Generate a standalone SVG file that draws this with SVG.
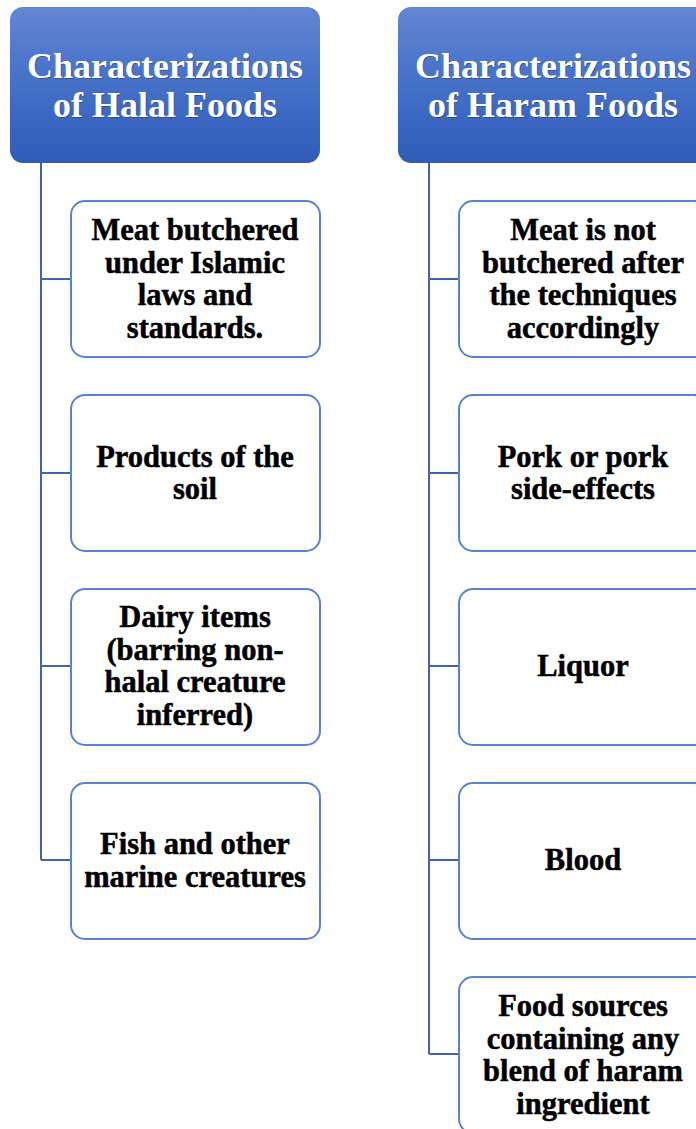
<svg xmlns="http://www.w3.org/2000/svg" width="696" height="1129" viewBox="0 0 696 1129">
  <defs>
    <linearGradient id="hdr" x1="0" y1="0" x2="0" y2="1">
      <stop offset="0" stop-color="#6286d2"/>
      <stop offset="0.5" stop-color="#4470c8"/>
      <stop offset="1" stop-color="#2f5cb9"/>
    </linearGradient>
    <style>
      .hdr { fill: url(#hdr); stroke: none; }
      .hdrText { font-family: "Liberation Serif", "Times New Roman", serif; font-weight: bold; font-size: 36px; fill: #ffffff; text-anchor: middle; }
      .hdrShadow { font-family: "Liberation Serif", "Times New Roman", serif; font-weight: bold; font-size: 36px; fill: #2a2a40; fill-opacity: 0.45; text-anchor: middle; }
      .box { fill: #ffffff; stroke: #5b82cc; stroke-width: 2; }
      .boxText { font-family: "Liberation Serif", "Times New Roman", serif; font-weight: bold; font-size: 30.5px; fill: #000000; stroke: #000000; stroke-width: 0.5; text-anchor: middle; }
      .conn { fill: none; stroke: #3f63ad; stroke-width: 2; }
    </style>
  </defs>
  <rect width="696" height="1129" fill="#ffffff"/>

  <g id="connectors">
    <path class="conn" d="M41,162 V860 M41,279 H71 M41,473 H71 M41,666 H71 M41,860 H71"/>
    <path class="conn" d="M429,162 V1054 M429,279 H459 M429,473 H459 M429,666 H459 M429,860 H459 M429,1054 H459"/>
  </g>

  <g id="halal-header">
    <rect class="hdr" x="10" y="7" width="310" height="156" rx="13"/>
    <text class="hdrShadow" x="166" y="79">Characterizations</text>
    <text class="hdrShadow" x="166" y="118">of Halal Foods</text>
    <text class="hdrText" x="165" y="78">Characterizations</text>
    <text class="hdrText" x="165" y="117">of Halal Foods</text>
  </g>

  <g id="haram-header">
    <rect class="hdr" x="398" y="7" width="310" height="156" rx="13"/>
    <text class="hdrShadow" x="554" y="79">Characterizations</text>
    <text class="hdrShadow" x="554" y="118">of Haram Foods</text>
    <text class="hdrText" x="553" y="78">Characterizations</text>
    <text class="hdrText" x="553" y="117">of Haram Foods</text>
  </g>

  <g id="halal-1">
    <rect class="box" x="71" y="201" width="249" height="156" rx="14"/>
    <text class="boxText" x="195" y="240">Meat butchered</text>
    <text class="boxText" x="195" y="272.5">under Islamic</text>
    <text class="boxText" x="195" y="305">laws and</text>
    <text class="boxText" x="195" y="337.5">standards.</text>
  </g>

  <g id="halal-2">
    <rect class="box" x="71" y="395" width="249" height="156" rx="14"/>
    <text class="boxText" x="195" y="466.5">Products of the</text>
    <text class="boxText" x="195" y="499">soil</text>
  </g>

  <g id="halal-3">
    <rect class="box" x="71" y="589" width="249" height="156" rx="14"/>
    <text class="boxText" x="195" y="627">Dairy items</text>
    <text class="boxText" x="195" y="659.5">(barring non-</text>
    <text class="boxText" x="195" y="692">halal creature</text>
    <text class="boxText" x="195" y="724.5">inferred)</text>
  </g>

  <g id="halal-4">
    <rect class="box" x="71" y="783" width="249" height="156" rx="14"/>
    <text class="boxText" x="195" y="854">Fish and other</text>
    <text class="boxText" x="195" y="886.5">marine creatures</text>
  </g>

  <g id="haram-1">
    <rect class="box" x="459" y="201" width="249" height="156" rx="14"/>
    <text class="boxText" x="583" y="240">Meat is not</text>
    <text class="boxText" x="583" y="272.5">butchered after</text>
    <text class="boxText" x="583" y="305">the techniques</text>
    <text class="boxText" x="583" y="337.5">accordingly</text>
  </g>

  <g id="haram-2">
    <rect class="box" x="459" y="395" width="249" height="156" rx="14"/>
    <text class="boxText" x="583" y="466.5">Pork or pork</text>
    <text class="boxText" x="583" y="499">side-effects</text>
  </g>

  <g id="haram-3">
    <rect class="box" x="459" y="589" width="249" height="156" rx="14"/>
    <text class="boxText" x="583" y="676">Liquor</text>
  </g>

  <g id="haram-4">
    <rect class="box" x="459" y="783" width="249" height="156" rx="14"/>
    <text class="boxText" x="583" y="870">Blood</text>
  </g>

  <g id="haram-5">
    <rect class="box" x="459" y="977" width="249" height="156" rx="14"/>
    <text class="boxText" x="583" y="1016">Food sources</text>
    <text class="boxText" x="583" y="1048.5">containing any</text>
    <text class="boxText" x="583" y="1081">blend of haram</text>
    <text class="boxText" x="583" y="1113.5">ingredient</text>
  </g>
</svg>
